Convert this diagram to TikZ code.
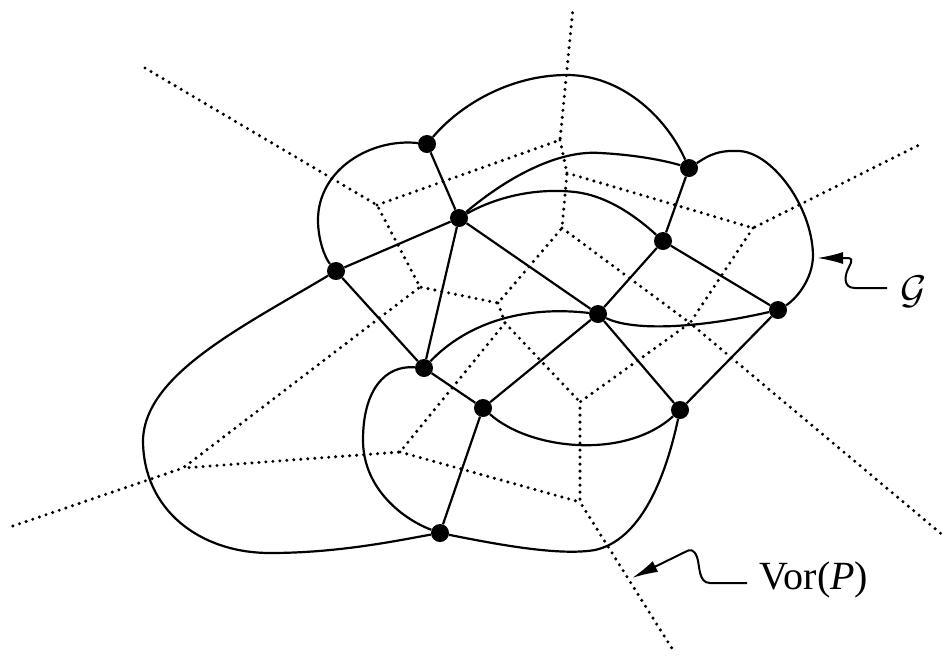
\RequirePackage{fix-cm}
\documentclass[tikz,border=0pt]{standalone}
\usepackage{fontspec}
\setmainfont{Liberation Serif}
\usetikzlibrary{arrows.meta}
\begin{document}
\begin{tikzpicture}[x=1pt,y=-1pt,
  site/.style={circle,fill=black,inner sep=0pt,minimum size=18pt},
  gedge/.style={line width=2.2pt,line join=round},
  vor/.style={line width=3.4pt,dash pattern=on 0pt off 7pt,line cap=round,black},
  callout/.style={line width=2pt,-{Latex[length=26pt,width=12pt]}},
  lbl/.style={inner sep=0pt,font=\fontsize{40}{44}\selectfont}]
\useasboundingbox (0,0) rectangle (951,657);
% Voronoi vertices and ray ends
\coordinate (vA) at (377,205);
\coordinate (vB) at (560,140);
\coordinate (vE) at (567,173);
\coordinate (vD) at (562,228);
\coordinate (vC) at (420,287);
\coordinate (vG) at (498,303);
\coordinate (vI) at (505,323);
\coordinate (vF) at (753,228);
\coordinate (vH) at (690,323);
\coordinate (vc) at (183,468);
\coordinate (vd) at (400,452);
\coordinate (ve) at (580,502);
\coordinate (vf) at (580,402);
\coordinate (r1) at (573,8);
\coordinate (r2) at (145,68);
\coordinate (r3) at (923,143);
\coordinate (r4) at (945,537);
\coordinate (r5) at (10,527);
\coordinate (r6) at (673,650);
% Voronoi diagram
\draw[vor] (r2) -- (vA) -- (vC) -- (vc) -- (r5);
\draw[vor] (vA) -- (vB) -- (r1);
\draw[vor] (vB) -- (vE) -- (vD) -- (vG) -- (vC);
\draw[vor] (vE) -- (vF) -- (r3);
\draw[vor] (vF) -- (vH) -- (r4);
\draw[vor] (vD) -- (vH) -- (vf) -- (ve) -- (r6);
\draw[vor] (vG) -- (vI) -- (vd) -- (vc);
\draw[vor] (vI) -- (vf);
\draw[vor] (vd) -- (ve);
% sites
\node[site] (p1) at (427,144) {};
\node[site] (p2) at (689,168) {};
\node[site] (p3) at (459,218) {};
\node[site] (p4) at (663,241) {};
\node[site] (p5) at (336,271) {};
\node[site] (p6) at (778,310) {};
\node[site] (p7) at (598,314) {};
\node[site] (p8) at (424,368) {};
\node[site] (p9) at (483,408) {};
\node[site] (p10) at (680,410) {};
\node[site] (p11) at (440,533) {};
% straight edges
\draw[gedge] (p1) -- (p3);
\draw[gedge] (p3) -- (p5);
\draw[gedge] (p3) -- (p8);
\draw[gedge] (p3) -- (p7);
\draw[gedge] (p5) -- (p8);
\draw[gedge] (p8) -- (p9);
\draw[gedge] (p9) -- (p7);
\draw[gedge] (p7) -- (p4);
\draw[gedge] (p4) -- (p2);
\draw[gedge] (p4) -- (p6);
\draw[gedge] (p7) -- (p10);
\draw[gedge] (p10) -- (p6);
\draw[gedge] (p9) -- (p11);
% curved edges
\draw[gedge] (p1) .. controls (460,105) and (510,75) .. (567,75) .. controls (620,75) and (665,115) .. (p2);
\draw[gedge] (p1) .. controls (370,138) and (318,170) .. (318,220) .. controls (318,240) and (325,258) .. (p5);
\draw[gedge] (p3) .. controls (510,175) and (560,150) .. (600,153) .. controls (640,155) and (670,162) .. (p2);
\draw[gedge] (p3) .. controls (500,195) and (540,188) .. (575,192) .. controls (610,196) and (640,220) .. (p4);
\draw[gedge] (p2) .. controls (705,158) and (715,150) .. (737,151) .. controls (770,150) and (812,205) .. (813,255) .. controls (813,280) and (795,300) .. (p6);
\draw[gedge] (p8) .. controls (465,325) and (520,305) .. (p7);
\draw[gedge] (p7) .. controls (630,330) and (690,330) .. (p6);
\draw[gedge] (p5) .. controls (240,328) and (145,375) .. (143,440) .. controls (143,510) and (200,553) .. (270,553) .. controls (340,553) and (400,540) .. (p11);
\draw[gedge] (p8) .. controls (385,365) and (363,390) .. (363,440) .. controls (363,490) and (405,520) .. (p11);
\draw[gedge] (p9) .. controls (530,450) and (625,460) .. (p10);
\draw[gedge] (p11) .. controls (500,545) and (560,556) .. (595,550) .. controls (640,540) and (665,480) .. (p10);
% labels and callouts
\node[lbl] (lblG) at (914,292) {$\mathcal{G}$};
\coordinate (gstart) at (887,288);
\coordinate (gtip) at (817,258);
\draw[callout] (gstart) -- (855,288) .. controls (842,288) and (845,274) .. (849,267) .. controls (853,259) and (852,258) .. (846,258) -- (gtip);
\node[lbl] (lblV) at (814,580) {Vor(\textit{P})};
\coordinate (vstart) at (747,583);
\coordinate (vtip) at (632,578);
\draw[callout] (vstart) -- (710,583) .. controls (698,583) and (700,565) .. (697,557) .. controls (694,549) and (690,549) .. (685,552) -- (vtip);
\end{tikzpicture}
\end{document}
